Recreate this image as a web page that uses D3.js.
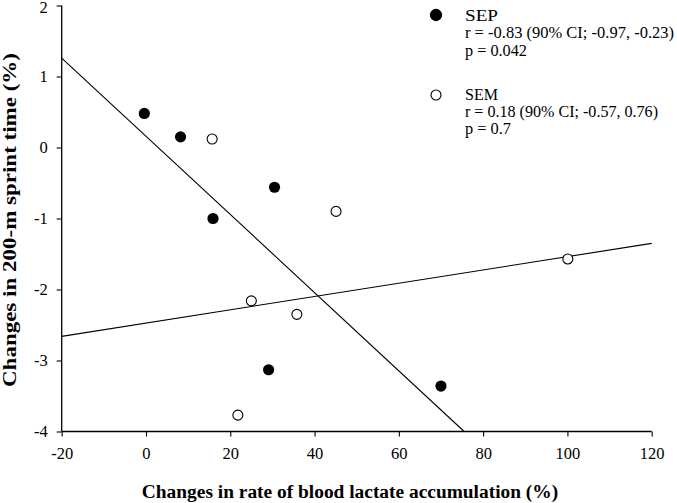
<!DOCTYPE html>
<html>
<head>
<meta charset="utf-8">
<script src="https://cdn.jsdelivr.net/npm/d3@7/dist/d3.min.js"></script>
<style>
  html, body { margin: 0; padding: 0; background: #fff; }
  svg { display: block; font-family: "Liberation Serif", "Times New Roman", serif; }
</style>
</head>
<body>
<svg id="chart" width="677" height="503"></svg>
<script>
// ---- Data ----
const sepX = [-0.4, 8.2, 15.9, 30.5, 29.1, 70.0];
const sepY = [0.48, 0.15, -1.00, -0.56, -3.13, -3.36];
const semX = [15.7, 45.1, 25.0, 35.8, 21.8, 100.1];
const semY = [0.12, -0.90, -2.16, -2.35, -3.77, -1.57];
// Regression lines (end points)
const sepLineX = [-20, 75.5];
const sepLineY = [1.26, -4];
const semLineX = [-20, 120];
const semLineY = [-2.66, -1.35];
const xTicks = [-20, 0, 20, 40, 60, 80, 100, 120];
const yTicks = [-4, -3, -2, -1, 0, 1, 2];
const legendSEP = ["SEP", "r = -0.83 (90% CI; -0.97, -0.23)", "p = 0.042"];
const legendSEM = ["SEM", "r = 0.18 (90% CI; -0.57, 0.76)", "p = 0.7"];
const xTitle = "Changes in rate of blood lactate accumulation (%)";
const yTitle = "Changes in 200-m sprint time (%)";

// ---- Layout ----
const FONT = '"Liberation Serif", "Times New Roman", serif';
const svg = d3.select("#chart");
const x = d3.scaleLinear().domain([-20, 120]).range([61.7, 651.7]);
const y = d3.scaleLinear().domain([-4, 2]).range([431.5, 5.5]);

// Axes
const fmt = d => String(d);  // plain hyphen-minus as in the original
const xAxis = d3.axisBottom(x).tickValues(xTicks).tickSize(5).tickPadding(11).tickFormat(fmt);
const yAxis = d3.axisLeft(y).tickValues(yTicks).tickSize(5).tickPadding(9).tickFormat(fmt);

const gx = svg.append("g").attr("transform", `translate(0,${y(-4)})`).call(xAxis);
const gy = svg.append("g").attr("transform", `translate(${x(-20)},0)`).call(yAxis);
[gx, gy].forEach(g => {
  g.attr("font-family", FONT);
  g.select(".domain").attr("stroke", "#000").attr("stroke-width", 1.3);
  g.selectAll(".tick line").attr("stroke", "#000").attr("stroke-width", 1.1);
  g.selectAll(".tick text").attr("fill", "#000")
    .style("font-family", FONT)
    .style("font-size", "16.5px");
});
gx.select(".domain").attr("d", `M${x(-20)},0H${x(120)}`);
gy.select(".domain").attr("d", `M0,${y(-4)}V${y(2)}`);
gy.selectAll(".tick").filter(d => d === 2).select("text").attr("dy", "0.42em");

// Regression lines
const line = d3.line().x(d => x(d[0])).y(d => y(d[1]));
svg.append("path").datum(d3.zip(sepLineX, sepLineY)).attr("d", line)
  .attr("fill", "none").attr("stroke", "#000").attr("stroke-width", 1.1);
svg.append("path").datum(d3.zip(semLineX, semLineY)).attr("d", line)
  .attr("fill", "none").attr("stroke", "#000").attr("stroke-width", 1.1);

// Points
svg.append("g").selectAll("circle").data(d3.zip(semX, semY)).join("circle")
  .attr("cx", d => x(d[0])).attr("cy", d => y(d[1])).attr("r", 5)
  .attr("fill", "#fff").attr("stroke", "#000").attr("stroke-width", 1.1);
svg.append("g").selectAll("circle").data(d3.zip(sepX, sepY)).join("circle")
  .attr("cx", d => x(d[0])).attr("cy", d => y(d[1])).attr("r", 5.6)
  .attr("fill", "#000");

// Legend
function legend(lines, widths, cy, baseline, filled) {
  svg.append("circle").attr("cx", 436).attr("cy", cy).attr("r", filled ? 5.6 : 5)
    .attr("fill", filled ? "#000" : "#fff").attr("stroke", "#000").attr("stroke-width", 1.1);
  lines.forEach((s, i) => {
    svg.append("text").attr("x", 465).attr("y", baseline + i * 17.3)
      .style("font-size", "16.5px").attr("fill", "#000")
      .attr("textLength", widths[i]).attr("lengthAdjust", "spacingAndGlyphs")
      .text(s);
  });
}
legend(legendSEP, [33, 209, 62], 15, 21, true);
legend(legendSEM, [33, 193, 46], 95, 99.5, false);

// Axis titles
svg.append("text").attr("x", 350).attr("y", 498)
  .attr("text-anchor", "middle").style("font-size", "19.4px").style("font-weight", "bold")
  .text(xTitle);
svg.append("text").attr("transform", `translate(15.5,220) rotate(-90)`)
  .attr("text-anchor", "middle").style("font-size", "19.4px").style("font-weight", "bold")
  .attr("textLength", 334).attr("lengthAdjust", "spacingAndGlyphs")
  .text(yTitle);
</script>
</body>
</html>
